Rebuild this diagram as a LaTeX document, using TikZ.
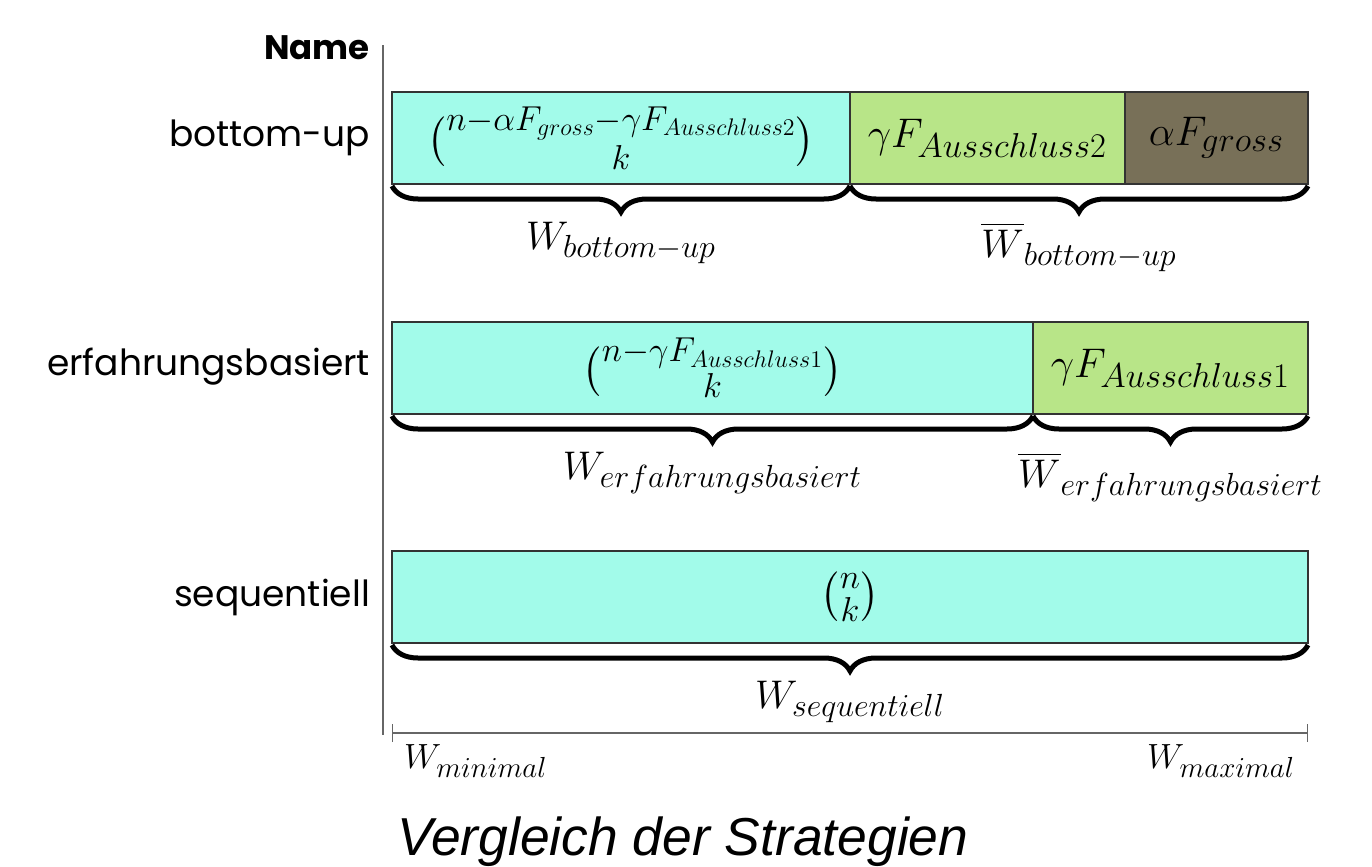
\RequirePackage{fix-cm}
\documentclass[tikz,border=0pt]{standalone}
\usepackage{amsmath}
\usepackage{amsfonts}
\usepackage{fontspec}
\newfontfamily\namefont{Poppins}
\newfontfamily\titlefont{Liberation Sans}
\usetikzlibrary{arrows,arrows.meta,positioning,decorations.pathreplacing}

% groessere Indizes
\DeclareMathSizes{20.7}{20.7}{17.3}{12}
\DeclareMathSizes{20}{20}{16}{11.5}
\DeclareMathSizes{17.5}{17.5}{14.5}{10.5}

\definecolor{wcyan}{HTML}{A2FBEA}
\definecolor{wgreen}{HTML}{B8E588}
\definecolor{wbrown}{HTML}{787058}

\begin{document}
\begin{tikzpicture}[x=0.5pt, y=-0.5pt,
	cell/.style={draw=black!80, line width=0.6pt, minimum height=46pt, inner sep=0pt, outer sep=0pt, font=\fontsize{20.7}{24}\selectfont},
	wbrace/.style={decorate, decoration={brace, mirror, amplitude=13pt, raise=1pt}, line width=2.5pt},
	wlabel/.style={midway, below=14.5pt, font=\fontsize{20}{22}\selectfont},
	rowname/.style={anchor=east, font=\namefont\fontsize{18}{21}\selectfont}]
	\useasboundingbox (0,0) rectangle (1372,867);

	% Achsen
	\draw[black!60, line width=0.9pt] (383,45) -- (383,735);
	\coordinate (wmin) at (392,733);
	\coordinate (wmax) at (1308,733);
	\draw[black!60, line width=0.7pt, {Bar[width=9pt]}-{Bar[width=9pt]}] (wmin) -- (wmax);
	\node[anchor=north west, font=\fontsize{17.5}{20}\selectfont] (lmin) at (397,738) {$W_{minimal}$};
	\node[anchor=north east, font=\fontsize{17.5}{20}\selectfont] (lmax) at (1302,738) {$W_{maximal}$};

	% Namen
	\node[anchor=east, font=\namefont\bfseries\fontsize{17}{20}\selectfont] (name) at (377,48) {Name};
	\node[rowname] (nbu) at (377,138) {bottom-up};
	\node[rowname] (ner) at (377,367) {erfahrungsbasiert};
	\node[rowname] (nseq) at (377,597) {sequentiell};

	% bottom-up
	\node[cell, fill=wcyan, minimum width=229pt, anchor=north west] (bu1) at (392,92)
		{$\tbinom{n-\alpha F_{gross}-\gamma F_{Ausschluss2}}{k}$};
	\node[cell, fill=wgreen, minimum width=137.5pt, right=0pt of bu1] (bu2) {$\gamma F_{Ausschluss2}$};
	\node[cell, fill=wbrown, minimum width=91.5pt, right=0pt of bu2] (bu3) {$\alpha F_{gross}$};
	\draw[wbrace] (bu1.south west) -- (bu1.south east) node[wlabel] (wbu) {$W_{bottom-up}$};
	\draw[wbrace] (bu2.south west) -- (bu3.south east) node[wlabel] (wbuq) {$\overline{W}_{bottom-up}$};

	% erfahrungsbasiert
	\node[cell, fill=wcyan, minimum width=320.5pt, anchor=north west] (er1) at (392,322)
		{$\tbinom{n-\gamma F_{Ausschluss1}}{k}$};
	\node[cell, fill=wgreen, minimum width=137.5pt, right=0pt of er1] (er2) {$\gamma F_{Ausschluss1}$};
	\draw[wbrace] (er1.south west) -- (er1.south east) node[wlabel] (wer) {$W_{erfahrungsbasiert}$};
	\draw[wbrace] (er2.south west) -- (er2.south east) node[wlabel] (werq) {$\overline{W}_{erfahrungsbasiert}$};

	% sequentiell
	\node[cell, fill=wcyan, minimum width=458pt, anchor=north west] (seq) at (392,551) {$\tbinom{n}{k}$};
	\draw[wbrace] (seq.south west) -- (seq.south east) node[wlabel] (wseq) {$W_{sequentiell}$};

	\node[anchor=base, font=\titlefont\itshape\fontsize{26.7}{30}\selectfont] (titel) at (683,855) {Vergleich der Strategien};
\end{tikzpicture}
\end{document}
